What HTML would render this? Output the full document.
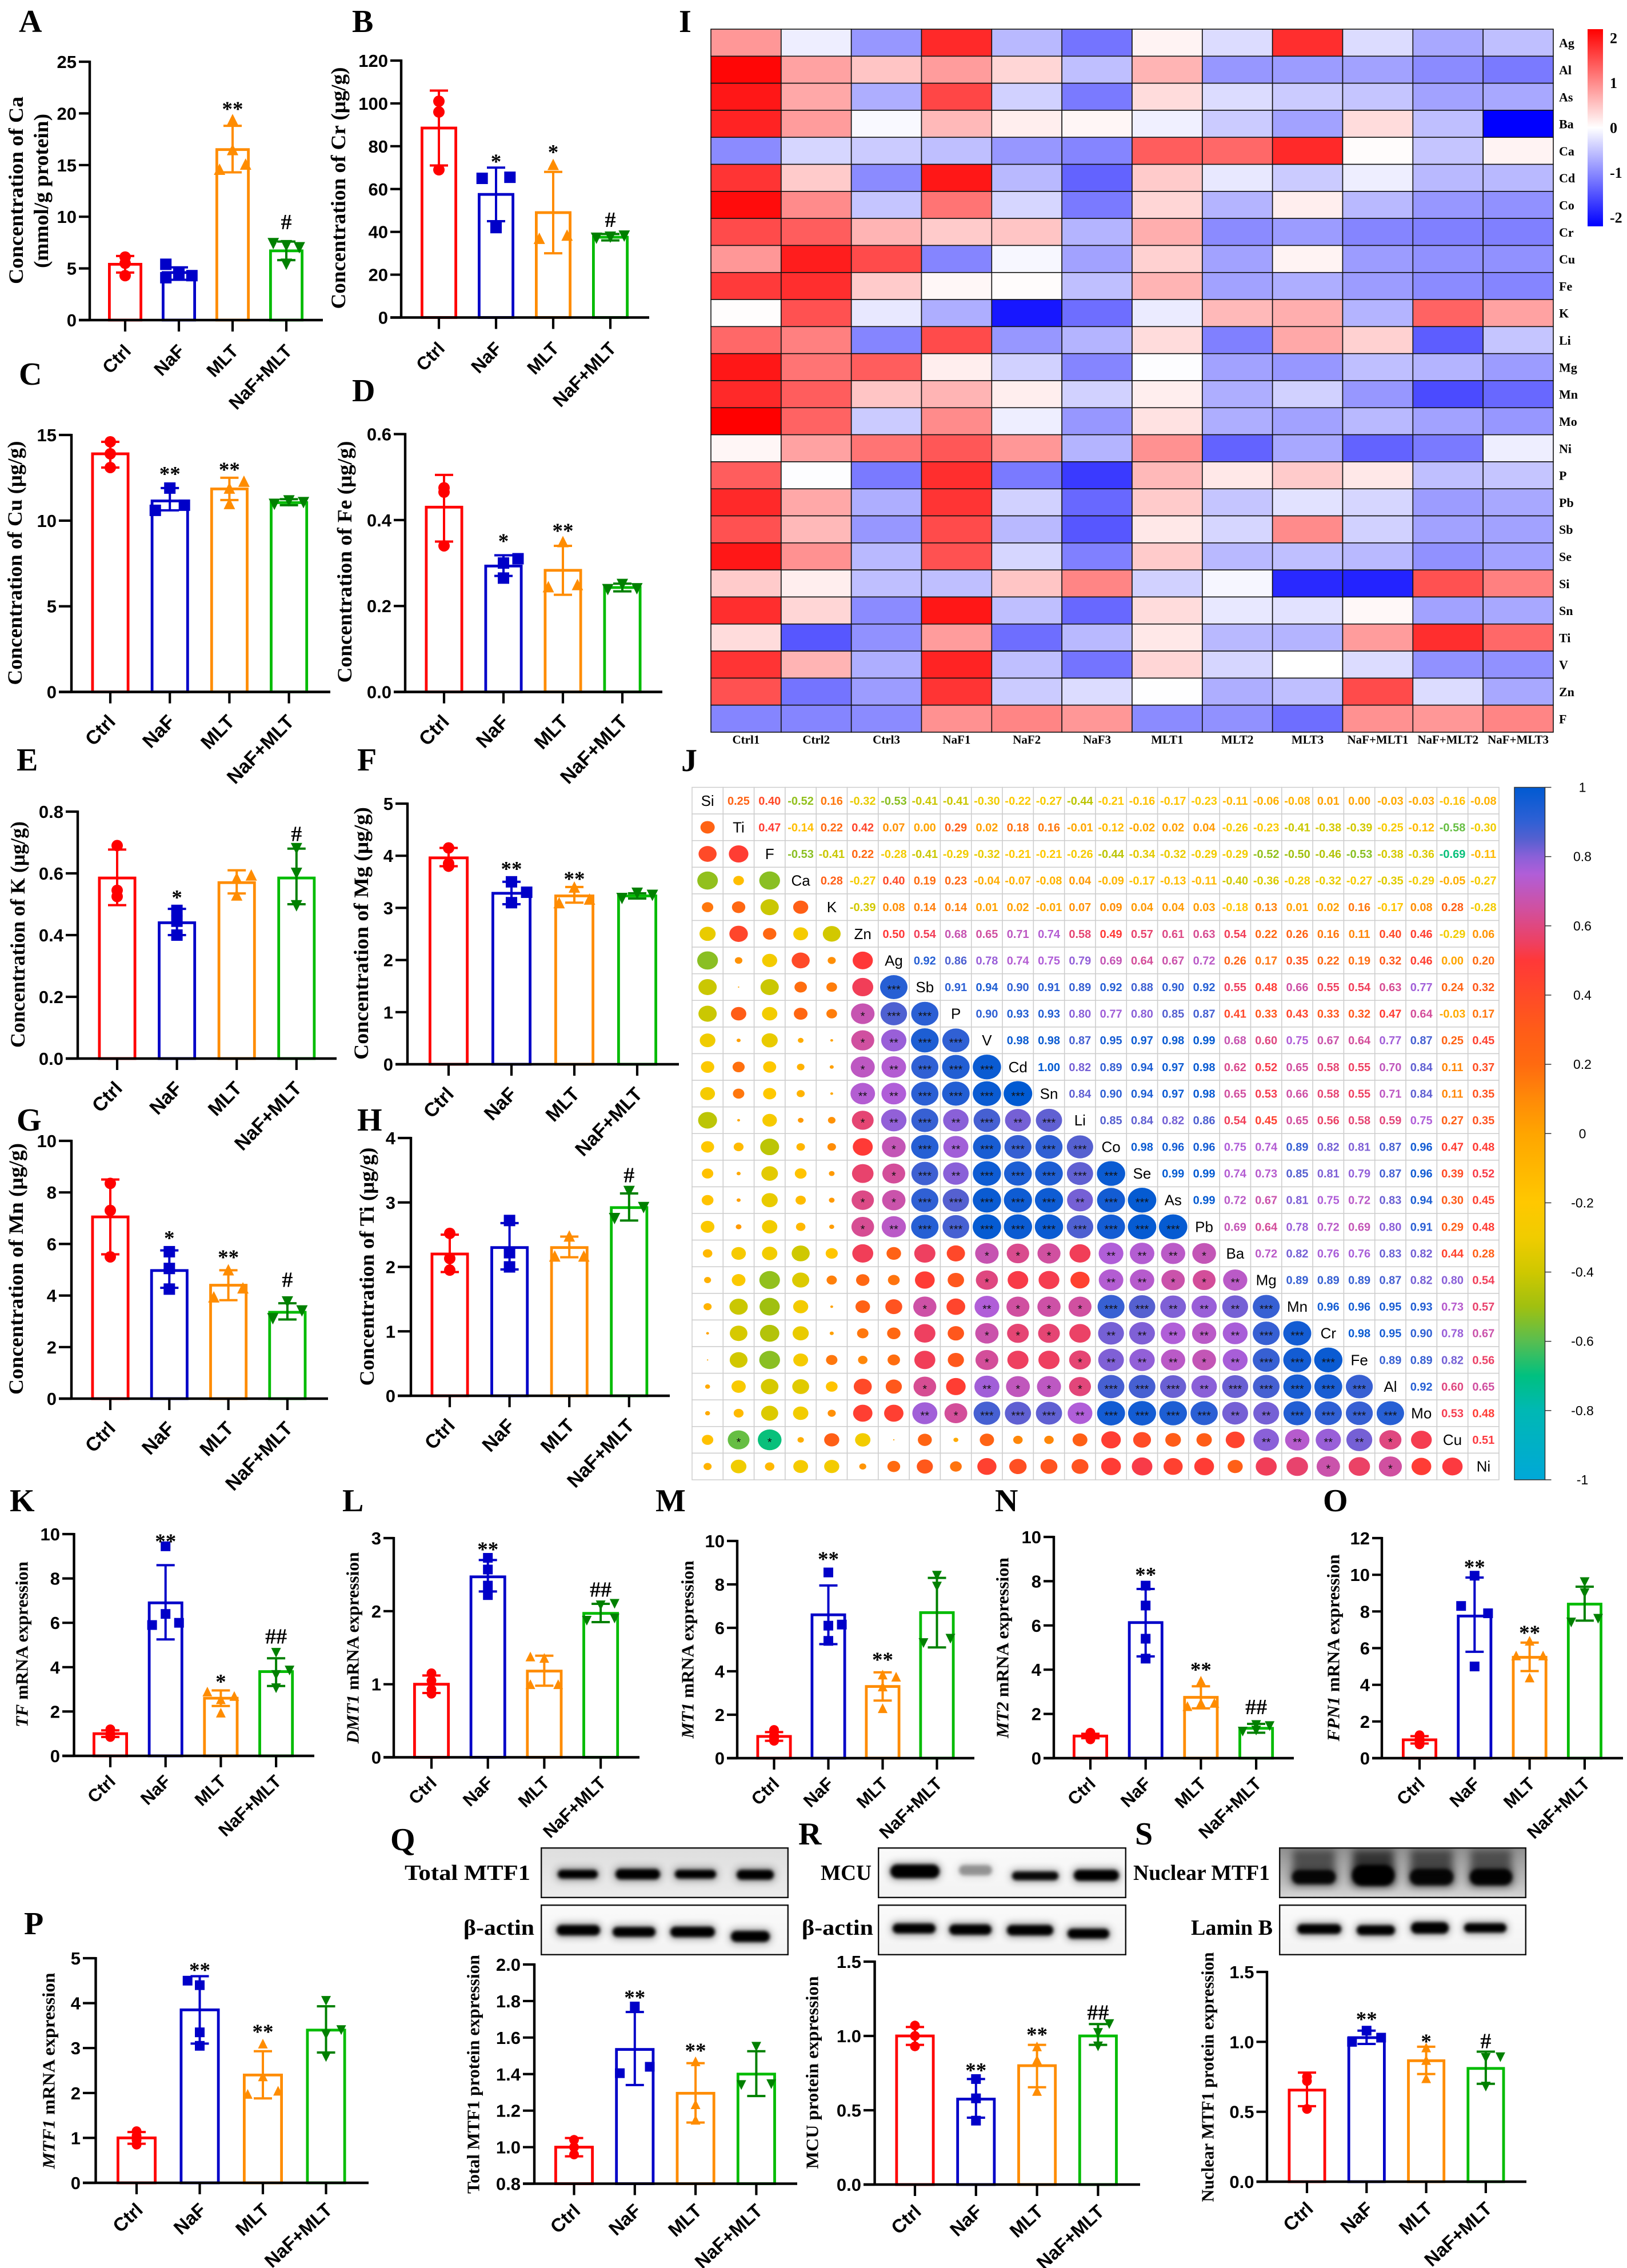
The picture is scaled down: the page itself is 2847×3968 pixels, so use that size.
<!DOCTYPE html>
<html lang="en">
<head>
<meta charset="utf-8">
<title>Multi-panel figure: element concentrations, heatmap, correlation and expression</title>
<style>
html,body{margin:0;padding:0;background:#fff;}
#figure{display:block;width:2847px;height:3968px;background:#fff;}
.letter{font-family:"Liberation Serif",serif;font-weight:bold;font-size:56px;fill:#000;}
.blot-label{font-family:"Liberation Serif",serif;font-weight:bold;font-size:38px;fill:#000;}
</style>
</head>
<body>
<svg id="figure" xmlns="http://www.w3.org/2000/svg" width="2847" height="3968" viewBox="0 0 2847 3968">
<defs>
<filter id="blur2" x="-30%" y="-100%" width="160%" height="300%"><feGaussianBlur stdDeviation="3"/></filter>
<filter id="blur6" x="-30%" y="-100%" width="160%" height="300%"><feGaussianBlur stdDeviation="7"/></filter>
<linearGradient id="heat-gradient" x1="0" y1="0" x2="0" y2="1"><stop offset="0" stop-color="#ff0000"/><stop offset="0.5" stop-color="#ffffff"/><stop offset="1" stop-color="#0000ff"/></linearGradient>
<linearGradient id="corr-gradient" x1="0" y1="0" x2="0" y2="1"></linearGradient>
<linearGradient id="blot-grey" x1="0" y1="0" x2="0" y2="1"><stop offset="0" stop-color="#dedede"/><stop offset="1" stop-color="#ebebeb"/></linearGradient>
<linearGradient id="blot-light" x1="0" y1="0" x2="0" y2="1"><stop offset="0" stop-color="#fafafa"/><stop offset="1" stop-color="#f3f3f3"/></linearGradient>
<linearGradient id="blot-dark" x1="0" y1="0" x2="0" y2="1"><stop offset="0" stop-color="#8e8e8e"/><stop offset="0.7" stop-color="#bcbcbc"/><stop offset="1" stop-color="#d8d8d8"/></linearGradient>
</defs>
<text class="letter" x="33" y="56">A</text>
<text class="letter" x="616" y="56">B</text>
<text class="letter" x="33" y="673">C</text>
<text class="letter" x="616" y="702">D</text>
<text class="letter" x="29" y="1348">E</text>
<text class="letter" x="625" y="1348">F</text>
<text class="letter" x="29" y="1978">G</text>
<text class="letter" x="625" y="1978">H</text>
<text class="letter" x="1188" y="56">I</text>
<text class="letter" x="1192" y="1349">J</text>
<text class="letter" x="17" y="2644">K</text>
<text class="letter" x="599" y="2644">L</text>
<text class="letter" x="1147" y="2644">M</text>
<text class="letter" x="1741" y="2644">N</text>
<text class="letter" x="2315" y="2644">O</text>
<text class="letter" x="42" y="3384">P</text>
<text class="letter" x="683" y="3237">Q</text>
<text class="letter" x="1397" y="3227">R</text>
<text class="letter" x="1986" y="3227">S</text>
<text class="blot-label" x="708" y="3289" textLength="220" lengthAdjust="spacingAndGlyphs">Total MTF1</text>
<text class="blot-label" x="811" y="3385" textLength="124" lengthAdjust="spacingAndGlyphs">β-actin</text>
<text class="blot-label" x="1436" y="3289" textLength="89" lengthAdjust="spacingAndGlyphs">MCU</text>
<text class="blot-label" x="1403" y="3385" textLength="125" lengthAdjust="spacingAndGlyphs">β-actin</text>
<text class="blot-label" x="1983" y="3289" textLength="239" lengthAdjust="spacingAndGlyphs">Nuclear MTF1</text>
<text class="blot-label" x="2084" y="3385" textLength="143" lengthAdjust="spacingAndGlyphs">Lamin B</text>
</svg>
<script>
/* ---------- shared categories ---------- */
const categories=['Ctrl','NaF','MLT','NaF+MLT'];

/* ---------- bar chart data, one group of arrays per panel ---------- */
const aTicks=['0','5','10','15','20','25'];
const aMeans=[5.4,4.6,16.5,6.7];
const aErrLow=[4.6,3.9,14.3,5.8];
const aErrHigh=[6.2,5.1,18.8,7.6];
const aPoints=[[6.1,5.5,4.3],[5.4,4.1,4.5,4.3],[19.4,16.5,14.6,15.1],[7.4,7.2,7.0,5.4]];
const aJitter=[[0,0,0],[-1,-1,0,1],[0,0,-1,1],[-1,0,1,0]];
const aSig=['','','**','#'];
const aSigLevel=[null,null,20.8,9.5];

const bTicks=['0','20','40','60','80','100','120'];
const bMeans=[88.5,57.5,49,37.5];
const bErrLow=[71,45,30,36];
const bErrHigh=[106,70,68,39];
const bPoints=[[101,96,69],[65,65.5,42],[71.5,37,38.5],[37,37.5,38]];
const bJitter=[[0,0,0],[-1,1,0],[0,-1,1],[-1,0,1]];
const bSig=['','*','*','#'];
const bSigLevel=[null,74.6,79,45.8];

const cTicks=['0','5','10','15'];
const cMeans=[13.9,11.15,11.85,11.05];
const cErrLow=[13.1,10.6,11.2,10.9];
const cErrHigh=[14.6,11.9,12.5,11.25];
const cPoints=[[14.6,13.9,13.1],[11.9,10.6,10.9],[12.3,11.9,11.0],[10.95,11.15,11.05]];
const cJitter=[[0,0,0],[0,-1,1],[1,0,0],[-1,0,1]];
const cSig=['','**','**',''];
const cSigLevel=[null,12.94,13.2,null];

const dTicks=['0.0','0.2','0.4','0.6'];
const dMeans=[0.43,0.293,0.283,0.243];
const dErrLow=[0.35,0.27,0.226,0.234];
const dErrHigh=[0.505,0.318,0.34,0.252];
const dPoints=[[0.475,0.465,0.34],[0.30,0.31,0.265],[0.35,0.245,0.25],[0.238,0.25,0.24]];
const dJitter=[[0,0,0],[0,1,0],[0,-1,1],[-1,0,1]];
const dSig=['','*','**',''];
const dSigLevel=[null,0.36,0.384,null];

const eTicks=['0.0','0.2','0.4','0.6','0.8'];
const eMeans=[0.585,0.44,0.57,0.585];
const eErrLow=[0.497,0.40,0.535,0.50];
const eErrHigh=[0.677,0.485,0.61,0.68];
const ePoints=[[0.69,0.545,0.525],[0.48,0.445,0.40],[0.595,0.585,0.53],[0.68,0.60,0.495]];
const eJitter=[[0,0,0],[0,0,0],[1,0,0],[0,0,0]];
const eSig=['','*','','#'];
const eSigLevel=[null,0.534,null,0.729];

const fTicks=['0','1','2','3','4','5'];
const fMeans=[3.96,3.28,3.23,3.23];
const fErrLow=[3.8,3.07,3.1,3.18];
const fErrHigh=[4.15,3.5,3.4,3.28];
const fPoints=[[4.15,3.85,3.8],[3.5,3.1,3.3],[3.4,3.1,3.17],[3.18,3.28,3.24]];
const fJitter=[[0,0,0],[0,0,1],[0,-1,1],[-1,0,1]];
const fSig=['','**','**',''];
const fSigLevel=[null,3.82,3.63,null];

const gTicks=['0','2','4','6','8','10'];
const gMeans=[7.05,4.97,4.4,3.35];
const gErrLow=[5.6,4.3,3.82,3.07];
const gErrHigh=[8.5,5.75,4.98,3.7];
const gPoints=[[8.35,7.3,5.5],[5.7,5.05,4.25],[5.0,3.95,4.3],[3.75,3.4,3.1]];
const gJitter=[[0,0,0],[0,0,0],[0,-1,1],[0,1,-1]];
const gSig=['','*','**','#'];
const gSigLevel=[null,6.37,5.63,4.62];

const hTicks=['0','1','2','3','4'];
const hMeans=[2.2,2.3,2.3,2.92];
const hErrLow=[1.92,1.96,2.15,2.72];
const hErrHigh=[2.5,2.68,2.47,3.14];
const hPoints=[[2.52,2.13,1.95],[2.72,2.22,2.0],[2.48,2.17,2.17],[3.17,2.92,2.75]];
const hJitter=[[0,0,0],[0,0,0],[0,-1,1],[0,1,-1]];
const hSig=['','','','#'];
const hSigLevel=[null,null,null,3.43];

const kTicks=['0','2','4','6','8','10'];
const kMeans=[1.0,6.9,2.6,3.8];
const kErrLow=[0.85,5.25,2.25,3.15];
const kErrHigh=[1.15,8.6,2.95,4.4];
const kPoints=[[1.2,1.0,0.9,0.85],[9.45,6.4,5.9,6.0],[2.9,2.55,2.7,1.95],[4.65,3.85,3.65,3.05]];
const kJitter=[[0,0,0,0],[0,0,-1,1],[-1,0,1,0],[0,1,0,0]];
const kSig=['','**','*','##'];
const kSigLevel=[null,9.85,3.52,5.4];

const lTicks=['0','1','2','3'];
const lMeans=[1.0,2.47,1.18,1.97];
const lErrLow=[0.88,2.27,0.98,1.85];
const lErrHigh=[1.12,2.7,1.39,2.1];
const lPoints=[[1.15,1.05,0.93,0.87],[2.73,2.57,2.35,2.22],[1.38,1.36,1.0,1.0],[1.87,1.9,2.08,2.1]];
const lJitter=[[0,0,0,0],[0,0,0,0],[-1,0,-1,1],[-1,1,0,1]];
const lSig=['','**','','##'];
const lSigLevel=[null,2.9,null,2.3];

const mTicks=['0','2','4','6','8','10'];
const mMeans=[1.0,6.6,3.3,6.7];
const mErrLow=[0.8,5.25,2.65,5.1];
const mErrHigh=[1.2,7.95,3.95,8.3];
const mPoints=[[1.3,1.05,0.9,0.8],[8.55,6.1,6.15,5.4],[3.85,3.75,3.3,2.3],[8.4,7.9,5.3,5.5]];
const mJitter=[[0,0,0,0],[0,0,1,0],[0,1,0,0],[0,0,-1,1]];
const mSig=['','**','**',''];
const mSigLevel=[null,9.34,4.71,null];

const nTicks=['0','2','4','6','8','10'];
const nMeans=[1.0,6.13,2.75,1.35];
const nErrLow=[0.9,4.6,2.25,1.15];
const nErrHigh=[1.1,7.65,3.25,1.55];
const nPoints=[[1.15,1.05,0.95,0.85],[7.8,6.9,5.4,4.5],[3.5,2.5,2.35,2.5],[1.5,1.45,1.25,1.2]];
const nJitter=[[0,0,0,0],[0,0,0,0],[0,0,-1,1],[0,1,0,-1]];
const nSig=['','**','**','##'];
const nSigLevel=[null,8.46,4.17,2.32];

const oTicks=['0','2','4','6','8','10','12'];
const oMeans=[1.0,7.75,5.5,8.4];
const oErrLow=[0.8,5.8,4.75,7.5];
const oErrHigh=[1.2,9.85,6.3,9.35];
const oPoints=[[1.25,1.05,0.9,0.75],[9.95,8.3,7.9,5.0],[6.4,5.6,5.6,4.4],[9.6,9.0,7.4,7.6]];
const oJitter=[[0,0,0,0],[0,-1,1,0],[0,-1,1,0],[0,0,-1,1]];
const oSig=['','**','**',''];
const oSigLevel=[null,10.63,7.04,null];

const pTicks=['0','1','2','3','4','5'];
const pMeans=[1.0,3.85,2.4,3.4];
const pErrLow=[0.87,3.1,1.88,2.9];
const pErrHigh=[1.13,4.6,2.93,3.93];
const pPoints=[[1.15,1.05,0.95,0.85],[4.5,4.4,3.35,3.05],[3.1,2.37,1.98,2.05],[4.05,3.4,3.3,2.8]];
const pJitter=[[0,0,0,0],[-0.8,0,0,0],[0,0,-1,1],[0,1,0,0]];
const pSig=['','**','**',''];
const pSigLevel=[null,4.82,3.45,null];

const qTicks=['0.8','1.0','1.2','1.4','1.6','1.8','2.0'];
const qMeans=[1.0,1.535,1.295,1.4];
const qErrLow=[0.95,1.34,1.135,1.28];
const qErrHigh=[1.05,1.74,1.46,1.525];
const qPoints=[[1.04,1.0,0.96],[1.77,1.405,1.44],[1.47,1.235,1.15],[1.55,1.34,1.345]];
const qJitter=[[0,0,0],[0,-1,1],[0,0,0],[0,-1,1]];
const qSig=['','**','**',''];
const qSigLevel=[null,1.84,1.55,null];

const rTicks=['0.0','0.5','1.0','1.5'];
const rMeans=[1.0,0.575,0.8,1.0];
const rErrLow=[0.94,0.45,0.655,0.94];
const rErrHigh=[1.06,0.71,0.94,1.08];
const rPoints=[[1.07,1.0,0.93],[0.71,0.58,0.43],[0.93,0.84,0.63],[1.08,1.02,0.93]];
const rJitter=[[0,0,0],[0,0,0],[0,0,0],[0.75,0,0]];
const rSig=['','**','**','##'];
const rSigLevel=[null,0.795,1.035,1.16];

const sTicks=['0.0','0.5','1.0','1.5'];
const sMeans=[0.655,1.03,0.865,0.81];
const sErrLow=[0.54,0.985,0.77,0.70];
const sErrHigh=[0.78,1.08,0.965,0.93];
const sPoints=[[0.75,0.72,0.52],[1.08,1.0,1.03],[0.96,0.87,0.74],[0.885,0.89,0.68]];
const sJitter=[[0,0,0],[0,-1,1],[0,0,0],[0,1,0]];
const sSig=['','**','*','#'];
const sSigLevel=[null,1.19,1.03,1.007];

/* ---------- heatmap data (panel I) ---------- */
const heatColumns=['Ctrl1','Ctrl2','Ctrl3','NaF1','NaF2','NaF3','MLT1','MLT2','MLT3','NaF+MLT1','NaF+MLT2','NaF+MLT3'];
const heatRows=['Ag','Al','As','Ba','Ca','Cd','Co','Cr','Cu','Fe','K','Li','Mg','Mn','Mo','Ni','P','Pb','Sb','Se','Si','Sn','Ti','V','Zn','F'];
const heatValues=[
[.9,-.15,-.9,1.85,-.6,-1.2,.1,-.3,1.8,-.3,-.75,-.55],
[2.15,.8,.5,.85,.35,-.55,.65,-.9,-.85,-.8,-1.0,-1.15],
[2.0,.75,-.7,1.6,-.4,-1.15,.3,-.3,-.45,-.5,-.8,-.75],
[1.9,.85,-.05,.6,.15,.08,-.13,-.45,-.8,.3,-.55,-2.2],
[-1.0,-.35,-.45,-.55,-.9,-1.05,1.4,1.3,1.85,.03,-.5,.1],
[1.75,.45,-1.0,2.0,-.6,-1.35,.45,-.2,-.45,-.15,-.6,-.6],
[2.1,1.0,-.5,1.2,-.35,-1.15,.35,-.65,.15,-.6,-.9,-.95],
[1.55,1.4,.65,.45,.5,-.65,.7,-1.0,-.85,-1.05,-1.1,-1.1],
[.9,1.95,1.55,-1.05,-.07,-.8,.4,-.8,.1,-.85,-.95,-.95],
[1.7,1.8,.45,.07,.03,-.55,.65,-.8,-.7,-.85,-1.0,-1.05],
[.02,1.5,-.2,-.7,-2.0,-1.25,-.17,.6,.7,-.65,1.35,.8],
[1.3,1.1,-1.05,1.55,-.9,-.65,.3,-1.1,.75,.4,-1.4,-.5],
[2.0,1.2,1.4,.15,-.4,-1.05,-.02,-.8,-.9,-.55,-.65,-.85],
[1.85,1.4,.5,.65,.15,-.4,.15,-.7,-.4,-.9,-1.55,-1.3],
[2.2,1.35,-.45,1.0,-.15,-.9,.25,-.7,-.8,-.6,-.8,-.9],
[.08,.8,1.2,1.45,.9,-.65,.95,-1.35,-.75,-1.35,-1.15,-.15],
[1.4,-.02,-1.15,1.8,-1.15,-1.7,.6,.2,.45,.2,-.55,-.5],
[1.85,.75,-.7,1.75,-.4,-1.3,.45,-.5,-.25,-.35,-.85,-.75],
[1.5,.6,-.9,1.55,-.6,-1.45,.2,-.35,1.0,-.4,-.8,-.8],
[2.0,.95,-.6,1.5,-.35,-1.1,.45,-.6,-.55,-.6,-.95,-.8],
[.45,.15,-.55,-.55,.5,1.05,-.4,-.08,-1.85,-1.9,1.5,1.1],
[1.8,.35,-1.0,2.0,-.55,-1.3,.3,-.2,-.25,.06,-.8,-.75],
[.3,-1.45,-.95,.85,-1.25,-.6,.2,-.6,-.65,.85,1.8,1.3],
[1.75,.65,-.7,1.9,-.55,-1.2,.35,-.35,0,-.3,-.95,-.95],
[1.5,-1.2,-.85,1.75,-.45,-.3,-.01,-.7,-.55,1.55,-.3,-.75],
[-1.05,-1.05,-1.0,.95,1.05,.9,-1.0,-.95,-1.25,.95,.9,1.05]
];
const heatLegendTicks=['2','1','0','-1','-2'];

/* ---------- correlation data (panel J): upper triangle by row ---------- */
const corrLabels=['Si','Ti','F','Ca','K','Zn','Ag','Sb','P','V','Cd','Sn','Li','Co','Se','As','Pb','Ba','Mg','Mn','Cr','Fe','Al','Mo','Cu','Ni'];
const corrUpper=[
['0.25','0.40','-0.52','0.16','-0.32','-0.53','-0.41','-0.41','-0.30','-0.22','-0.27','-0.44','-0.21','-0.16','-0.17','-0.23','-0.11','-0.06','-0.08','0.01','0.00','-0.03','-0.03','-0.16','-0.08'],
['0.47','-0.14','0.22','0.42','0.07','0.00','0.29','0.02','0.18','0.16','-0.01','-0.12','-0.02','0.02','0.04','-0.26','-0.23','-0.41','-0.38','-0.39','-0.25','-0.12','-0.58','-0.30'],
['-0.53','-0.41','0.22','-0.28','-0.41','-0.29','-0.32','-0.21','-0.21','-0.26','-0.44','-0.34','-0.32','-0.29','-0.29','-0.52','-0.50','-0.46','-0.53','-0.38','-0.36','-0.69','-0.11'],
['0.28','-0.27','0.40','0.19','0.23','-0.04','-0.07','-0.08','0.04','-0.09','-0.17','-0.13','-0.11','-0.40','-0.36','-0.28','-0.32','-0.27','-0.35','-0.29','-0.05','-0.27'],
['-0.39','0.08','0.14','0.14','0.01','0.02','-0.01','0.07','0.09','0.04','0.04','0.03','-0.18','0.13','0.01','0.02','0.16','-0.17','0.08','0.28','-0.28'],
['0.50','0.54','0.68','0.65','0.71','0.74','0.58','0.49','0.57','0.61','0.63','0.54','0.22','0.26','0.16','0.11','0.40','0.46','-0.29','0.06'],
['0.92','0.86','0.78','0.74','0.75','0.79','0.69','0.64','0.67','0.72','0.26','0.17','0.35','0.22','0.19','0.32','0.46','0.00','0.20'],
['0.91','0.94','0.90','0.91','0.89','0.92','0.88','0.90','0.92','0.55','0.48','0.66','0.55','0.54','0.63','0.77','0.24','0.32'],
['0.90','0.93','0.93','0.80','0.77','0.80','0.85','0.87','0.41','0.33','0.43','0.33','0.32','0.47','0.64','-0.03','0.17'],
['0.98','0.98','0.87','0.95','0.97','0.98','0.99','0.68','0.60','0.75','0.67','0.64','0.77','0.87','0.25','0.45'],
['1.00','0.82','0.89','0.94','0.97','0.98','0.62','0.52','0.65','0.58','0.55','0.70','0.84','0.11','0.37'],
['0.84','0.90','0.94','0.97','0.98','0.65','0.53','0.66','0.58','0.55','0.71','0.84','0.11','0.35'],
['0.85','0.84','0.82','0.86','0.54','0.45','0.65','0.56','0.58','0.59','0.75','0.27','0.35'],
['0.98','0.96','0.96','0.75','0.74','0.89','0.82','0.81','0.87','0.96','0.47','0.48'],
['0.99','0.99','0.74','0.73','0.85','0.81','0.79','0.87','0.96','0.39','0.52'],
['0.99','0.72','0.67','0.81','0.75','0.72','0.83','0.94','0.30','0.45'],
['0.69','0.64','0.78','0.72','0.69','0.80','0.91','0.29','0.48'],
['0.72','0.82','0.76','0.76','0.83','0.82','0.44','0.28'],
['0.89','0.89','0.89','0.87','0.82','0.80','0.54'],
['0.96','0.96','0.95','0.93','0.73','0.57'],
['0.98','0.95','0.90','0.78','0.67'],
['0.89','0.89','0.82','0.56'],
['0.92','0.60','0.65'],
['0.53','0.48'],
['0.51'],
[]
];
const corrLegendTicks=['1','0.8','0.6','0.4','0.2','0','-0.2','-0.4','-0.6','-0.8','-1'];
const corrScaleValues=[1,.9,.85,.8,.75,.65,.55,.5,.4,.3,.2,.1,0,-.2,-.3,-.4,-.5,-.6,-.7,-.8,-1];
const corrScaleColors=['#005ad2','#3060d4','#5560d0','#8a60d8','#b05ed8','#d050a0','#ee4060','#ff3838','#ff4a28','#ff5c18','#ff6a10','#ff8a08','#ffa500','#ffc800','#f0cc00','#cfc800','#a0c010','#58be50','#00c080','#00b8b4','#00a8d8'];

/* ---------- styling ---------- */
const barColors=['#ff0000','#0000c8','#ff8c00','#00bb00'];
const markColors=['#ff0000','#0000c8','#ff8c00','#008000'];

/* ---------- helpers ---------- */
const NS='http://www.w3.org/2000/svg';
const root=document.getElementById('figure');
function mk(tag,attrs,parent){
  const el=document.createElementNS(NS,tag);
  for(const k in attrs){el.setAttribute(k,attrs[k]);}
  (parent||root).appendChild(el);
  return el;
}

/* ---------- bar panels ---------- */
function drawMarker(g,shape,x,y,size,color){
  const h=size/2;
  let el;
  if(shape===0){el=mk('ellipse',{cx:x,cy:y,rx:h,ry:h,fill:color},g);}
  else if(shape===1){el=mk('rect',{x:x-h,y:y-h,width:size,height:size,fill:color},g);}
  else if(shape===2){el=mk('polygon',{points:(x-h)+','+(y+h)+' '+(x+h)+','+(y+h)+' '+x+','+(y-h),fill:color},g);}
  else{el=mk('polygon',{points:(x-h)+','+(y-h)+' '+(x+h)+','+(y-h)+' '+x+','+(y+h),fill:color},g);}
  
  
}

function drawBarPanel(p){
  const g=mk('g',{});
  
  
  const lo=Number(p.ticks[0]);
  const hi=Number(p.ticks[p.ticks.length-1]);
  const yScale=function(v){return p.y0-(v-lo)/(hi-lo)*(p.y0-p.yTop);};
  const xScale=function(i){return p.c0+i*p.step;};
  const sw=4.8;
  categories.forEach(function(cat,i){
    const cx=xScale(i);
    const yMean=yScale(p.means[i]);
    const bar=mk('rect',{x:cx-p.w/2+sw/2,y:yMean,width:p.w-sw,height:p.y0-yMean,fill:'#fff',stroke:barColors[i],'stroke-width':sw},g);
    
    
    const yLow=yScale(p.errLow[i]);
    const yHigh=yScale(p.errHigh[i]);
    const stem=mk('line',{x1:cx,x2:cx,y1:yLow,y2:yHigh,stroke:markColors[i],'stroke-width':4},g);
    
    
    const capTop=mk('line',{x1:cx-16,x2:cx+16,y1:yHigh,y2:yHigh,stroke:markColors[i],'stroke-width':4},g);
    
    
    const capLow=mk('line',{x1:cx-16,x2:cx+16,y1:yLow,y2:yLow,stroke:markColors[i],'stroke-width':4},g);
    
    
    p.points[i].forEach(function(v,k){
      drawMarker(g,i,cx+p.jitter[i][k]*0.38*p.w,yScale(v),p.marker,markColors[i]);
    });
    if(p.sig[i]){
      const isHash=p.sig[i].charAt(0)==='#';
      const base=yScale(p.sigLevel[i])+(isHash?13:19);
      const s=mk('text',{x:cx,y:base,'text-anchor':'middle','font-family':'"Liberation Serif",serif','font-weight':'bold','font-size':isHash?38:37,fill:'#000'},g);
      s.textContent=p.sig[i];
      
      
    }
    const tick=mk('line',{x1:cx,x2:cx,y1:p.y0,y2:p.y0+20,stroke:'#000','stroke-width':4.2},g);
    
    
    const tx=cx+p.lab.dx;
    const ty=p.y0+p.lab.dy;
    const lab=mk('text',{x:tx,y:ty,transform:'rotate(-'+p.lab.angle+' '+tx+' '+ty+')','text-anchor':'end','font-family':'"Liberation Sans",sans-serif','font-weight':'bold','font-size':p.lab.fs,fill:'#000'},g);
    lab.textContent=cat;
    
    
  });
  const yAxis=mk('line',{x1:p.axisX,x2:p.axisX,y1:p.yTop-2,y2:p.y0+2,stroke:'#000','stroke-width':4.4},g);
  
  
  const xAxis=mk('line',{x1:p.xStart,x2:p.xEnd,y1:p.y0,y2:p.y0,stroke:'#000','stroke-width':4.6},g);
  
  
  p.ticks.forEach(function(t){
    const y=yScale(Number(t));
    const tick=mk('line',{x1:p.xStart,x2:p.axisX,y1:y,y2:y,stroke:'#000','stroke-width':4.2},g);
    
    
    const lab=mk('text',{x:p.xStart-4,y:y+11,'text-anchor':'end','font-family':'"Liberation Sans",sans-serif','font-weight':'bold','font-size':31,fill:'#000'},g);
    lab.textContent=t;
    
    
  });
  p.titles.forEach(function(tt){
    const fs=p.titleFs;
    const t=mk('text',{transform:'translate('+tt.x+' '+tt.y+') rotate(-90)',x:0,y:fs*0.3,'text-anchor':'middle','font-family':'"Liberation Serif",serif','font-weight':'bold','font-size':fs,fill:'#000',textLength:tt.len,lengthAdjust:'spacingAndGlyphs'},g);
    if(tt.em){
      const em=mk('tspan',{'font-style':'italic'},t);
      em.textContent=tt.em;
    }
    const rest=mk('tspan',{},t);
    rest.textContent=tt.text;
    
    
  });
}

const CUP=20, CLOW=17;
const LAB_TOP={fs:32,angle:46,dx:12,dy:56};
const LAB_MID={fs:34,angle:46,dx:11,dy:54};
const LAB_LOW={fs:31,angle:44,dx:11,dy:47};
const LAB_BOT={fs:33,angle:43,dx:13,dy:50};
const panels=[
{id:'a',ticks:aTicks,means:aMeans,errLow:aErrLow,errHigh:aErrHigh,points:aPoints,jitter:aJitter,sig:aSig,sigLevel:aSigLevel,axisX:157,y0:560,yTop:108,xStart:138,xEnd:565,c0:219,step:94,w:60,marker:CUP,lab:LAB_TOP,titleFs:36,titles:[{x:29,y:333,len:328,text:'Concentration of Ca'},{x:73,y:334,len:270,text:'(mmol/g protein)'}]},
{id:'b',ticks:bTicks,means:bMeans,errLow:bErrLow,errHigh:bErrHigh,points:bPoints,jitter:bJitter,sig:bSig,sigLevel:bSigLevel,axisX:702,y0:555.5,yTop:106,xStart:683,xEnd:1136,c0:768,step:100,w:64,marker:CUP,lab:LAB_TOP,titleFs:36,titles:[{x:593,y:329,len:423,text:'Concentration of Cr (μg/g)'}]},
{id:'c',ticks:cTicks,means:cMeans,errLow:cErrLow,errHigh:cErrHigh,points:cPoints,jitter:cJitter,sig:cSig,sigLevel:cSigLevel,axisX:125,y0:1210.6,yTop:761,xStart:103,xEnd:578,c0:193,step:104.2,w:67,marker:CUP,lab:LAB_MID,titleFs:36,titles:[{x:27,y:985,len:427,text:'Concentration of Cu (μg/g)'}]},
{id:'d',ticks:dTicks,means:dMeans,errLow:dErrLow,errHigh:dErrHigh,points:dPoints,jitter:dJitter,sig:dSig,sigLevel:dSigLevel,axisX:709,y0:1210.6,yTop:759.5,xStart:689,xEnd:1159,c0:777,step:104,w:67,marker:CUP,lab:LAB_MID,titleFs:36,titles:[{x:604,y:983,len:423,text:'Concentration of Fe (μg/g)'}]},
{id:'e',ticks:eTicks,means:eMeans,errLow:eErrLow,errHigh:eErrHigh,points:ePoints,jitter:eJitter,sig:eSig,sigLevel:eSigLevel,axisX:136,y0:1852,yTop:1420,xStart:115,xEnd:589,c0:205,step:104.6,w:67,marker:CUP,lab:LAB_MID,titleFs:36,titles:[{x:32,y:1635,len:396,text:'Concentration of K (μg/g)'}]},
{id:'f',ticks:fTicks,means:fMeans,errLow:fErrLow,errHigh:fErrHigh,points:fPoints,jitter:fJitter,sig:fSig,sigLevel:fSigLevel,axisX:713,y0:1862,yTop:1406,xStart:692,xEnd:1188,c0:785,step:110,w:70,marker:CUP,lab:LAB_MID,titleFs:36,titles:[{x:633,y:1633,len:442,text:'Concentration of Mg (μg/g)'}]},
{id:'g',ticks:gTicks,means:gMeans,errLow:gErrLow,errHigh:gErrHigh,points:gPoints,jitter:gJitter,sig:gSig,sigLevel:gSigLevel,axisX:125,y0:2447,yTop:1996,xStart:103,xEnd:574,c0:193,step:103.3,w:67,marker:CUP,lab:LAB_MID,titleFs:36,titles:[{x:29,y:2220,len:440,text:'Concentration of Mn (μg/g)'}]},
{id:'h',ticks:hTicks,means:hMeans,errLow:hErrLow,errHigh:hErrHigh,points:hPoints,jitter:hJitter,sig:hSig,sigLevel:hSigLevel,axisX:719,y0:2442,yTop:1991,xStart:696,xEnd:1172,c0:787,step:104.6,w:67,marker:CUP,lab:LAB_MID,titleFs:36,titles:[{x:643,y:2216,len:417,text:'Concentration of Ti (μg/g)'}]},
{id:'k',ticks:kTicks,means:kMeans,errLow:kErrLow,errHigh:kErrHigh,points:kPoints,jitter:kJitter,sig:kSig,sigLevel:kSigLevel,axisX:129.5,y0:3072,yTop:2684,xStart:109,xEnd:550,c0:193,step:96.7,w:62,marker:CLOW,lab:LAB_LOW,titleFs:31,titles:[{x:39,y:2877,len:290,em:'TF',text:' mRNA expression'}]},
{id:'l',ticks:lTicks,means:lMeans,errLow:lErrLow,errHigh:lErrHigh,points:lPoints,jitter:lJitter,sig:lSig,sigLevel:lSigLevel,axisX:689,y0:3074.5,yTop:2691,xStart:671,xEnd:1119,c0:755,step:98.7,w:64,marker:CLOW,lab:LAB_LOW,titleFs:31,titles:[{x:618,y:2883,len:335,em:'DMT1',text:' mRNA expression'}]},
{id:'m',ticks:mTicks,means:mMeans,errLow:mErrLow,errHigh:mErrHigh,points:mPoints,jitter:mJitter,sig:mSig,sigLevel:mSigLevel,axisX:1290,y0:3076,yTop:2696,xStart:1272,xEnd:1705,c0:1354.5,step:95,w:62,marker:CLOW,lab:LAB_LOW,titleFs:31,titles:[{x:1204,y:2886,len:311,em:'MT1',text:' mRNA expression'}]},
{id:'n',ticks:nTicks,means:nMeans,errLow:nErrLow,errHigh:nErrHigh,points:nPoints,jitter:nJitter,sig:nSig,sigLevel:nSigLevel,axisX:1844,y0:3076,yTop:2689,xStart:1826,xEnd:2264,c0:1908,step:96.7,w:62,marker:CLOW,lab:LAB_LOW,titleFs:31,titles:[{x:1755,y:2883,len:316,em:'MT2',text:' mRNA expression'}]},
{id:'o',ticks:oTicks,means:oMeans,errLow:oErrLow,errHigh:oErrHigh,points:oPoints,jitter:oJitter,sig:oSig,sigLevel:oSigLevel,axisX:2418,y0:3076,yTop:2691,xStart:2401,xEnd:2840,c0:2484,step:96.3,w:62,marker:CLOW,lab:LAB_LOW,titleFs:31,titles:[{x:2334,y:2883,len:327,em:'FPN1',text:' mRNA expression'}]},
{id:'p',ticks:pTicks,means:pMeans,errLow:pErrLow,errHigh:pErrHigh,points:pPoints,jitter:pJitter,sig:pSig,sigLevel:pSigLevel,axisX:167.5,y0:3819,yTop:3426,xStart:145,xEnd:645,c0:239,step:110.5,w:70,marker:CLOW,lab:LAB_BOT,titleFs:31,titles:[{x:86,y:3623,len:343,em:'MTF1',text:' mRNA expression'}]},
{id:'q',ticks:qTicks,means:qMeans,errLow:qErrLow,errHigh:qErrHigh,points:qPoints,jitter:qJitter,sig:qSig,sigLevel:qSigLevel,axisX:935,y0:3820.5,yTop:3437,xStart:915,xEnd:1395,c0:1004.5,step:106.3,w:69,marker:CLOW,lab:LAB_BOT,titleFs:31,titles:[{x:829,y:3629,len:418,text:'Total MTF1 protein expression'}]},
{id:'r',ticks:rTicks,means:rMeans,errLow:rErrLow,errHigh:rErrHigh,points:rPoints,jitter:rJitter,sig:rSig,sigLevel:rSigLevel,axisX:1530.6,y0:3822,yTop:3432,xStart:1511,xEnd:1995,c0:1601,step:106.8,w:69,marker:CLOW,lab:LAB_BOT,titleFs:31,titles:[{x:1422,y:3626,len:337,text:'MCU protein expression'}]},
{id:'s',ticks:sTicks,means:sMeans,errLow:sErrLow,errHigh:sErrHigh,points:sPoints,jitter:sJitter,sig:sSig,sigLevel:sSigLevel,axisX:2217,y0:3817,yTop:3450,xStart:2198.5,xEnd:2671,c0:2287,step:104.3,w:67,marker:CLOW,lab:LAB_BOT,titleFs:31,titles:[{x:2114,y:3634,len:437,text:'Nuclear MTF1 protein expression'}]}
];
panels.forEach(drawBarPanel);

/* ---------- heatmap ---------- */
function heatColor(v){
  const s=Math.min(1,Math.abs(v)/2.2);
  const c=Math.round(255*(1-s));
  return v>=0?'rgb(255,'+c+','+c+')':'rgb('+c+','+c+',255)';
}
(function drawHeatmap(){
  const left=1244,right=2718,top=51,bottom=1281;
  const g=mk('g',{});
  
  
  const cw=(right-left)/heatColumns.length;
  const ch=(bottom-top)/heatRows.length;
  heatRows.forEach(function(row,r){
    heatColumns.forEach(function(col,c){
      const cell=mk('rect',{x:left+c*cw,y:top+r*ch,width:cw,height:ch,fill:heatColor(heatValues[r][c]),stroke:'#111','stroke-width':1.6},g);
      
      
    });
    const lab=mk('text',{x:right+10,y:top+(r+0.5)*ch+8,'font-family':'"Liberation Serif",serif','font-weight':'bold','font-size':22,fill:'#000'},g);
    lab.textContent=row;
    
    
  });
  heatColumns.forEach(function(col,c){
    const lab=mk('text',{x:left+(c+0.5)*cw,y:bottom+20,'text-anchor':'middle','font-family':'"Liberation Serif",serif','font-weight':'bold','font-size':21,fill:'#000'},g);
    lab.textContent=col;
    
    
  });
  const bar=mk('rect',{x:2778,y:51,width:27,height:345,fill:'url(#heat-gradient)'},g);
  
  
  const legendY=function(v){return 51+(2.2-v)/4.4*345;};
  heatLegendTicks.forEach(function(t){
    const lab=mk('text',{x:2817,y:legendY(Number(t))+9,'font-family':'"Liberation Serif",serif','font-weight':'bold','font-size':26,fill:'#000'},g);
    lab.textContent=t;
    
    
  });
})();

/* ---------- correlation matrix ---------- */
function corrColor(r){
  const vals=corrScaleValues;
  for(let i=1;i<vals.length;i++){
    if(r>=vals[i]){
      const t=(r-vals[i])/(vals[i-1]-vals[i]);
      const a=corrScaleColors[i];
      const b=corrScaleColors[i-1];
      const mix=function(o){
        const ca=parseInt(a.substr(o,2),16);
        const cb=parseInt(b.substr(o,2),16);
        return Math.round(ca+(cb-ca)*t);
      };
      return 'rgb('+mix(1)+','+mix(3)+','+mix(5)+')';
    }
  }
  return corrScaleColors[corrScaleColors.length-1];
}
(function drawCorr(){
  const left=1211,right=2623,top=1377.5,bottom=2589;
  const g=mk('g',{});
  
  
  const n=corrLabels.length;
  const cw=(right-left)/n;
  const ch=(bottom-top)/n;
  for(let r=0;r<n;r++){
    for(let c=0;c<n;c++){
      const cell=mk('rect',{x:left+c*cw,y:top+r*ch,width:cw,height:ch,fill:'#fff',stroke:'#cdcdcd','stroke-width':1.5},g);
      
      
    }
  }
  const value=function(r,c){return corrUpper[r][c-r-1];};
  for(let r=0;r<n;r++){
    for(let c=0;c<n;c++){
      const cx=left+(c+0.5)*cw;
      const cy=top+(r+0.5)*ch;
      if(r===c){
        const lab=mk('text',{x:cx,y:cy+9,'text-anchor':'middle','font-family':'"Liberation Sans",sans-serif','font-size':26,fill:'#000'},g);
        lab.textContent=corrLabels[r];
        
        
      }else if(c>r){
        const txt=value(r,c);
        const lab=mk('text',{x:cx,y:cy+7,'text-anchor':'middle','font-family':'"Liberation Sans",sans-serif','font-weight':'bold','font-size':20,fill:corrColor(Number(txt))},g);
        lab.textContent=txt;
        
        
      }else{
        const v=Number(value(c,r));
        const rx=Math.max(1.2,25*Math.sqrt(Math.abs(v)));
        const dot=mk('ellipse',{cx:cx,cy:cy,rx:rx,ry:rx*0.875,fill:corrColor(v)},g);
        
        
        const av=Math.abs(v);
        const stars=av>0.825?'***':av>0.715?'**':av>0.575?'*':'';
        if(stars){
          const st=mk('text',{x:cx,y:cy+11,'text-anchor':'middle','font-family':'"Liberation Sans",sans-serif','font-size':20,fill:'#111'},g);
          st.textContent=stars;
          
          
        }
      }
    }
  }
  const grad=document.getElementById('corr-gradient');
  corrScaleValues.forEach(function(v,i){
    mk('stop',{offset:(1-v)/2,'stop-color':corrScaleColors[i]},grad);
  });
  const bar=mk('rect',{x:2650,y:top,width:53.5,height:bottom-top,fill:'url(#corr-gradient)',stroke:'#333','stroke-width':1.5},g);
  
  
  const legendY=function(v){return top+(1-v)/2*(bottom-top);};
  corrLegendTicks.forEach(function(t){
    const y=legendY(Number(t));
    const tick=mk('line',{x1:2703.5,x2:2714.5,y1:y,y2:y,stroke:'#333','stroke-width':1.5},g);
    
    
    const lab=mk('text',{x:2769,y:y+8,'text-anchor':'middle','font-family':'"Liberation Sans",sans-serif','font-size':23,fill:'#000'},g);
    lab.textContent=t;
    
    
  });
})();

/* ---------- western blots (picture content, not chart data) ---------- */
function drawBlot(x,y,w,h,bg,smears,bands){
  const box=mk('svg',{x:x,y:y,width:w,height:h,viewBox:x+' '+y+' '+w+' '+h});
  
  
  const back=mk('rect',{x:x,y:y,width:w,height:h,fill:'url(#'+bg+')'},box);
  
  
  smears.forEach(function(s){
    const el=mk('rect',{x:s[0],y:s[1],width:s[2],height:s[3],fill:'#000',opacity:s[4],filter:'url(#blur6)'},box);
    
    
  });
  bands.forEach(function(b){
    const halo=mk('rect',{x:b[0]-2,y:b[1]-b[3]/2-3,width:b[2]+4,height:b[3]+6,rx:b[3]/2,ry:b[3]/2,fill:'#000',opacity:b[4]*0.4,filter:'url(#blur6)'},box);
    
    
    const el=mk('rect',{x:b[0],y:b[1]-b[3]/2,width:b[2],height:b[3],rx:b[3]/2,ry:b[3]/2,fill:'#000',opacity:b[4],filter:'url(#blur2)'},box);
    
    
  });
  const frame=mk('rect',{x:x+1.2,y:y+1.2,width:w-2.4,height:h-2.4,fill:'none',stroke:'#111','stroke-width':2.4},box);
  
  
}
drawBlot(946,3232,434,89,'blot-grey',[],[[976,3279,70,15,1],[1077,3279,78,18,1],[1181,3279,72,15,1],[1289,3280,65,17,1]]);
drawBlot(946,3332,434,89,'blot-light',[],[[974,3377,76,18,1],[1072,3380,75,17,1],[1173,3380,78,18,1],[1279,3388,68,19,1]]);
drawBlot(1536,3232,435,89,'blot-light',[],[[1558,3274,86,24,1],[1678,3272,58,18,0.32],[1771,3282,81,15,0.95],[1879,3281,79,19,1]]);
drawBlot(1536,3332,435,89,'blot-light',[],[[1562,3374,75,17,1],[1661,3376,74,18,1],[1762,3377,81,18,1],[1868,3383,73,17,1]]);
drawBlot(2238,3232,433,89,'blot-dark',[[2262,3236,74,60,0.5],[2367,3236,72,62,0.65],[2468,3236,74,62,0.55],[2573,3236,72,62,0.5]],[[2261,3284,76,24,0.9],[2366,3281,74,36,1],[2467,3284,76,28,0.9],[2572,3284,74,28,0.95]]);
drawBlot(2238,3332,433,89,'blot-light',[],[[2270,3375,77,17,1],[2374,3377,67,17,1],[2469,3373,66,20,1],[2562,3373,74,16,1]]);
</script>
</body>
</html>
